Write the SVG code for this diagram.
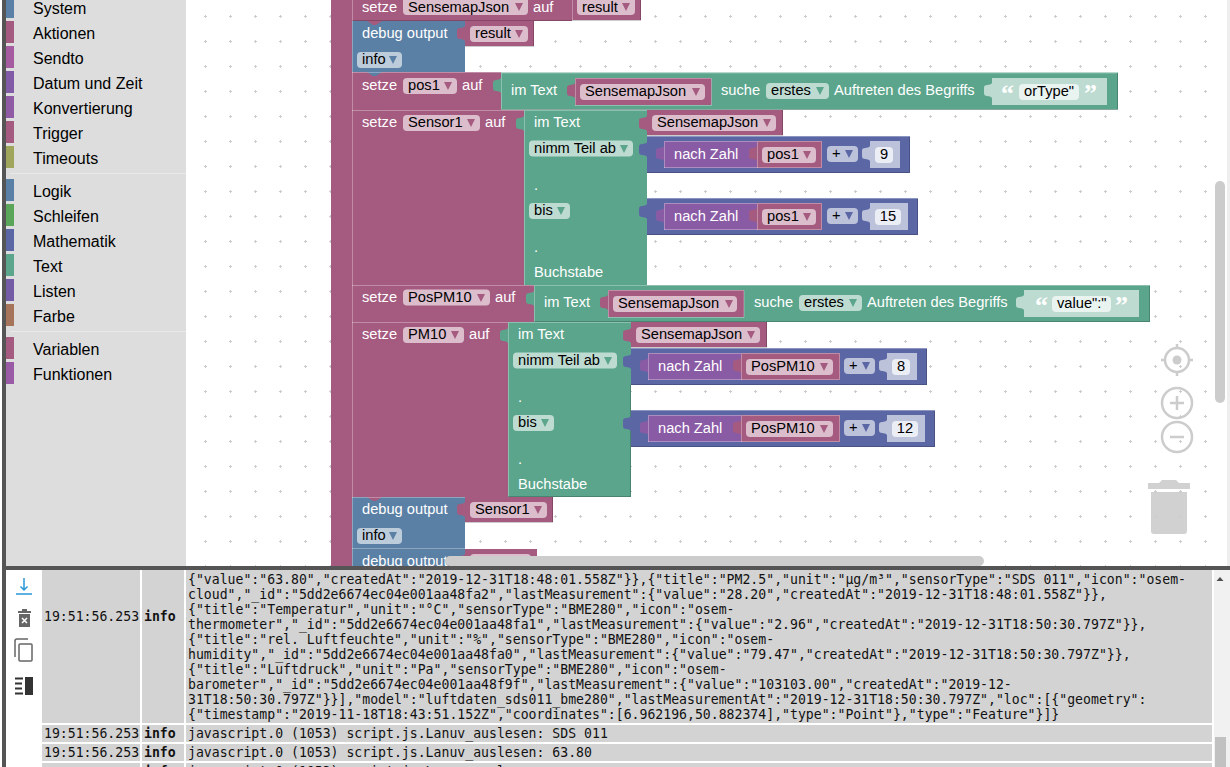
<svg xmlns="http://www.w3.org/2000/svg" width="1230" height="767" viewBox="0 0 1230 767">
<style>
text{font-family:"Liberation Sans",Arial,sans-serif;font-size:14.67px}
.w{fill:#fff}.k{fill:#000}
.tb{font-size:16px;fill:#000}
.log{font-family:"DejaVu Sans Mono",monospace;font-size:13.17px;fill:#111}
.lb{font-weight:bold}
.v{fill:#a55b80}.g{fill:#5ba58c}.d{fill:#5b80a5}.m{fill:#5b67a5}.p{fill:#8a5ba5}
.gs{fill:#bedbd1}.ms{fill:#bdc2db}
.vf{fill:#dbbdcc}.gf{fill:#bddbd1}.df{fill:#bdccdb}.mf{fill:#bdc2db}.sf{fill:#e9f3f0}.nf{fill:#eceef6}
.h{fill:none;stroke:#fff;stroke-opacity:.3}
.s{fill:none;stroke:#000;stroke-opacity:.2}
.c{fill:#ddd}.r{fill:#d3d3d3}.bar{fill:#ccc}
.ctl{fill:none;stroke:#ccc;stroke-width:2.5}
.q{font-family:"Liberation Serif",serif;font-size:26px;font-weight:bold}
</style>
<defs>
<pattern id="grid" patternUnits="userSpaceOnUse" width="25" height="25"><path d="M4,16.5h3M5.5,15v3" stroke="#ccc" fill="none"/></pattern>
<path id="t" d="M0,0C-2,3.500 -8,0 -8,5V10C-8,15 -2,11.500 0,15z"/>
<path id="n" d="M0,0l6,4h3l6,-4z"/>
<path id="a" d="M-4,-4h8l-4,8z"/>
<clipPath id="ws"><rect x="186" y="0" width="1044" height="566"/></clipPath>
<clipPath id="lg"><rect x="0" y="570" width="1230" height="197"/></clipPath>
</defs>
<rect width="1230" height="767" fill="#fff"/>

<g id="toolbox">
<rect class="c" x="6" y="0" width="180" height="566"/>
<rect x="2" y="0" width="4" height="767" fill="#555"/>
<rect x="10" y="173" width="176" height="1" fill="#e8e8e8"/><rect x="10" y="331" width="176" height="1" fill="#e8e8e8"/>
<rect x="6" y="-4" width="8" height="22" fill="#5b80a5"/><text class="tb" x="33" y="14">System</text>
<rect x="6" y="21" width="8" height="22" fill="#a55b80"/><text class="tb" x="33" y="39">Aktionen</text>
<rect x="6" y="46" width="8" height="22" fill="#a55ba0"/><text class="tb" x="33" y="64">Sendto</text>
<rect x="6" y="71" width="8" height="22" fill="#815ba5"/><text class="tb" x="33" y="89">Datum und Zeit</text>
<rect x="6" y="96" width="8" height="22" fill="#905ba5"/><text class="tb" x="33" y="114">Konvertierung</text>
<rect x="6" y="121" width="8" height="22" fill="#a55b80"/><text class="tb" x="33" y="139">Trigger</text>
<rect x="6" y="146" width="8" height="22" fill="#9fa55b"/><text class="tb" x="33" y="164">Timeouts</text>
<rect x="6" y="179" width="8" height="22" fill="#5b80a5"/><text class="tb" x="33" y="197">Logik</text>
<rect x="6" y="204" width="8" height="22" fill="#5ba55b"/><text class="tb" x="33" y="222">Schleifen</text>
<rect x="6" y="229" width="8" height="22" fill="#5b67a5"/><text class="tb" x="33" y="247">Mathematik</text>
<rect x="6" y="254" width="8" height="22" fill="#5ba58c"/><text class="tb" x="33" y="272">Text</text>
<rect x="6" y="279" width="8" height="22" fill="#745ba5"/><text class="tb" x="33" y="297">Listen</text>
<rect x="6" y="304" width="8" height="22" fill="#a5745b"/><text class="tb" x="33" y="322">Farbe</text>
<rect x="6" y="337" width="8" height="22" fill="#a55b80"/><text class="tb" x="33" y="355">Variablen</text>
<rect x="6" y="362" width="8" height="22" fill="#995ba6"/><text class="tb" x="33" y="380">Funktionen</text>
</g>

<g id="workspace">
<rect x="186" y="0" width="1041" height="566" fill="url(#grid)"/>
<rect x="1227" y="0" width="3" height="566" fill="#eee"/>
</g>

<g clip-path="url(#ws)">
<rect id="spine" class="v" x="331" y="-2" width="21" height="570"/>

<g id="set-sensemap">
<rect class="v" x="352" y="-5" width="220" height="26"/>
<rect class="vf" x="403" y="-4" width="125" height="19" rx="4"/>
<text class="w" x="362" y="12">setze</text><text class="k" x="408" y="12">SensemapJson</text><use href="#a" class="v" x="519" y="7"/>
<text class="w" x="533" y="12">auf</text>
<rect class="v" x="572" y="-5" width="69" height="25"/><use href="#t" class="v" x="572" y="0"/>
<rect class="vf" x="577" y="-4" width="58" height="19" rx="4"/><text class="k" x="582" y="12">result</text><use href="#a" class="v" x="626" y="7"/>
<path class="s" d="M352,20.500H640.500V0"/><path class="h" d="M572.500,0V20"/>
</g>

<g id="debug-result">
<rect class="d" x="352" y="21" width="113" height="51"/>
<use href="#n" class="v" x="367" y="21"/>
<text class="w" x="362" y="38">debug output</text>
<rect class="df" x="357" y="52" width="45" height="16" rx="4"/><text class="k" x="362" y="64">info</text><use href="#a" class="d" x="393" y="60"/>
<rect class="v" x="465" y="21" width="69" height="25"/><use href="#t" class="v" x="465" y="26"/>
<rect class="vf" x="470" y="26" width="58" height="16" rx="4"/><text class="k" x="475" y="38">result</text><use href="#a" class="v" x="519" y="34"/>
<path class="s" d="M465,46.500H533.500V21"/>
</g>

<g id="set-pos1">
<rect class="v" x="352" y="72" width="149" height="38"/>
<use href="#n" class="d" x="367" y="72"/>
<path class="h" d="M352,72.500H501"/>
<text class="w" x="362" y="90">setze</text>
<rect class="vf" x="403" y="78" width="54" height="16" rx="4"/><text class="k" x="408" y="90">pos1</text><use href="#a" class="v" x="448" y="86"/>
<text class="w" x="462" y="90">auf</text>
<rect class="g" x="501" y="72.500" width="617" height="37"/><use href="#t" class="g" x="501" y="78"/>
<path class="h" d="M501.500,109V73H1117"/><path class="s" d="M501,109.500H1117.500V73"/>
<text class="w" x="511" y="95">im Text</text>
<rect class="v" x="575" y="78" width="136.500" height="27"/><use href="#t" class="v" x="575" y="83"/>
<path class="h" d="M575.500,105.500V78.500H711.500V105.500H575"/>
<rect class="vf" x="580" y="84" width="125" height="16" rx="4"/><text class="k" x="585" y="96">SensemapJson</text><use href="#a" class="v" x="696" y="92"/>
<text class="w" x="721" y="95">suche</text>
<rect class="gf" x="766" y="83" width="63" height="16" rx="4"/><text class="k" x="771" y="95">erstes</text><use href="#a" class="g" x="820" y="91"/>
<text class="w" x="834" y="95">Auftreten des Begriffs</text>
<rect class="gs" x="992" y="78" width="115" height="27"/><use href="#t" class="gs" x="992" y="83"/>
<text class="q w" x="1001" y="102">“</text><text class="q w" x="1084" y="102">”</text>
<rect class="sf" x="1019" y="84" width="60" height="16" rx="4"/><text class="k" x="1024" y="96">orType"</text>
</g>

<g id="set-sensor1">
<rect class="v" x="352" y="110" width="172" height="175"/>
<use href="#n" class="v" x="367" y="110"/>
<path class="h" d="M352,110.500H524"/>
<text class="w" x="362" y="127">setze</text>
<rect class="vf" x="403" y="115" width="77" height="16" rx="4"/><text class="k" x="408" y="127">Sensor1</text><use href="#a" class="v" x="471" y="123"/>
<text class="w" x="485" y="127">auf</text>
<rect class="g" x="524" y="110" width="123" height="175"/><use href="#t" class="g" x="524" y="116"/>
<path class="h" d="M524.500,285V110.500H647"/>
<text class="w" x="534" y="127">im Text</text>
<rect class="gf" x="529" y="140.500" width="104" height="16" rx="4"/><text class="k" x="534" y="153">nimm Teil ab</text><use href="#a" class="g" x="624" y="149"/>
<text class="w" x="534" y="190">.</text>
<rect class="gf" x="529" y="203" width="41" height="16" rx="4"/><text class="k" x="534" y="215">bis</text><use href="#a" class="g" x="561" y="211"/>
<text class="w" x="534" y="252">.</text>
<text class="w" x="534" y="277">Buchstabe</text>
<rect class="v" x="647" y="110" width="136" height="25"/><use href="#t" class="v" x="647" y="116"/>
<rect class="vf" x="652" y="115" width="124" height="16" rx="4"/><text class="k" x="657" y="127">SensemapJson</text><use href="#a" class="v" x="767" y="123"/>
<path class="s" d="M647,135.500H782.500V110"/>
<rect class="m" x="647" y="136" width="263" height="37"/><use href="#t" class="m" x="647" y="142"/>
<path class="h" d="M647,136.500H910"/><path class="s" d="M647,172.500H909.500V137"/>
<rect class="p" x="664" y="141" width="93" height="27"/><use href="#t" class="p" x="664" y="146"/>
<path class="h" d="M664.500,168V141.500H757M664,167.500H757"/>
<text class="w" x="674" y="159">nach Zahl</text>
<rect class="v" x="757" y="141" width="65" height="27"/><use href="#t" class="v" x="757" y="146"/>
<path class="h" d="M757.500,168V141.500H821.500V167.500H757"/>
<rect class="vf" x="762" y="147" width="54" height="16" rx="4"/><text class="k" x="767" y="159">pos1</text><use href="#a" class="v" x="807" y="155"/>
<rect class="mf" x="827" y="146" width="31" height="16" rx="4"/><text class="k" x="832" y="158">+</text><use href="#a" class="m" x="849" y="154"/>
<rect class="ms" x="870" y="141" width="30" height="27"/><use href="#t" class="ms" x="870" y="146"/>
<rect class="nf" x="875" y="147" width="18" height="16" rx="4"/><text class="k" x="884" y="159" text-anchor="middle">9</text>
<rect class="m" x="647" y="198" width="271" height="37"/><use href="#t" class="m" x="647" y="204"/>
<path class="h" d="M647,198.500H918"/><path class="s" d="M647,234.500H917.500V199"/>
<rect class="p" x="664" y="203" width="93" height="27"/><use href="#t" class="p" x="664" y="208"/>
<path class="h" d="M664.500,230V203.500H757M664,229.500H757"/>
<text class="w" x="674" y="221">nach Zahl</text>
<rect class="v" x="757" y="203" width="65" height="27"/><use href="#t" class="v" x="757" y="208"/>
<path class="h" d="M757.500,230V203.500H821.500V229.500H757"/>
<rect class="vf" x="762" y="209" width="54" height="16" rx="4"/><text class="k" x="767" y="221">pos1</text><use href="#a" class="v" x="807" y="217"/>
<rect class="mf" x="827" y="208" width="31" height="16" rx="4"/><text class="k" x="832" y="220">+</text><use href="#a" class="m" x="849" y="216"/>
<rect class="ms" x="870" y="203" width="38" height="27"/><use href="#t" class="ms" x="870" y="208"/>
<rect class="nf" x="875" y="209" width="26" height="16" rx="4"/><text class="k" x="888" y="221" text-anchor="middle">15</text>
</g>

<g id="set-pospm10">
<rect class="v" x="352" y="285" width="182" height="37"/>
<use href="#n" class="v" x="367" y="285"/>
<path class="h" d="M352,285.500H534"/>
<text class="w" x="362" y="302">setze</text>
<rect class="vf" x="403" y="289.500" width="87" height="16" rx="4"/><text class="k" x="408" y="302">PosPM10</text><use href="#a" class="v" x="481" y="298"/>
<text class="w" x="495" y="302">auf</text>
<rect class="g" x="534" y="285" width="616" height="37"/><use href="#t" class="g" x="534" y="291"/>
<path class="h" d="M534.500,322V285.500H1150"/><path class="s" d="M534,321.500H1149.500V286"/>
<text class="w" x="544" y="307">im Text</text>
<rect class="v" x="608" y="290" width="136" height="27"/><use href="#t" class="v" x="608" y="295"/>
<path class="h" d="M608.500,317.500V290.500H744V317.500H608"/>
<rect class="vf" x="613" y="296" width="124" height="16" rx="4"/><text class="k" x="618" y="308">SensemapJson</text><use href="#a" class="v" x="729" y="304"/>
<text class="w" x="754" y="307">suche</text>
<rect class="gf" x="799" y="295" width="63" height="16" rx="4"/><text class="k" x="804" y="307">erstes</text><use href="#a" class="g" x="853" y="303"/>
<text class="w" x="867" y="307">Auftreten des Begriffs</text>
<rect class="gs" x="1024" y="290" width="115" height="27"/><use href="#t" class="gs" x="1024" y="295"/>
<text class="q w" x="1035" y="314">“</text><text class="q w" x="1115" y="314">”</text>
<rect class="sf" x="1052" y="296" width="59" height="16" rx="4"/><text class="k" x="1057" y="308">value":"</text>
</g>

<g id="set-pm10">
<rect class="v" x="352" y="322" width="156" height="175"/>
<use href="#n" class="v" x="367" y="322"/>
<path class="h" d="M352,322.500H508"/>
<text class="w" x="362" y="339">setze</text>
<rect class="vf" x="403" y="327" width="61" height="16" rx="4"/><text class="k" x="408" y="339">PM10</text><use href="#a" class="v" x="455" y="335"/>
<text class="w" x="469" y="339">auf</text>
<rect class="g" x="508" y="322" width="123" height="175"/><use href="#t" class="g" x="508" y="328"/>
<path class="h" d="M508.500,497V322.500H631"/><path class="s" d="M508,496.500H630.500V385"/>
<text class="w" x="518" y="339">im Text</text>
<rect class="gf" x="513" y="352.500" width="104" height="16" rx="4"/><text class="k" x="518" y="365">nimm Teil ab</text><use href="#a" class="g" x="608" y="361"/>
<text class="w" x="518" y="402">.</text>
<rect class="gf" x="513" y="415" width="41" height="16" rx="4"/><text class="k" x="518" y="427">bis</text><use href="#a" class="g" x="545" y="423"/>
<text class="w" x="518" y="464">.</text>
<text class="w" x="518" y="489">Buchstabe</text>
<rect class="v" x="631" y="322" width="136" height="25"/><use href="#t" class="v" x="631" y="328"/>
<rect class="vf" x="636" y="327" width="124" height="16" rx="4"/><text class="k" x="641" y="339">SensemapJson</text><use href="#a" class="v" x="751" y="335"/>
<path class="s" d="M631,347.500H766.500V322"/>
<rect class="m" x="631" y="348" width="296" height="37"/><use href="#t" class="m" x="631" y="354"/>
<path class="h" d="M631,348.500H927"/><path class="s" d="M631,384.500H926.500V349"/>
<rect class="p" x="648" y="353" width="93" height="27"/><use href="#t" class="p" x="648" y="358"/>
<path class="h" d="M648.500,380V353.500H741M648,379.500H741"/>
<text class="w" x="658" y="371">nach Zahl</text>
<rect class="v" x="741" y="353" width="99" height="27"/><use href="#t" class="v" x="741" y="358"/>
<path class="h" d="M741.500,380V353.500H839.500V379.500H741"/>
<rect class="vf" x="746" y="359" width="87" height="16" rx="4"/><text class="k" x="751" y="371">PosPM10</text><use href="#a" class="v" x="824" y="367"/>
<rect class="mf" x="844" y="358" width="31" height="16" rx="4"/><text class="k" x="849" y="370">+</text><use href="#a" class="m" x="866" y="366"/>
<rect class="ms" x="887" y="353" width="30" height="27"/><use href="#t" class="ms" x="887" y="358"/>
<rect class="nf" x="892" y="359" width="18" height="16" rx="4"/><text class="k" x="901" y="371" text-anchor="middle">8</text>
<rect class="m" x="631" y="410" width="304" height="37"/><use href="#t" class="m" x="631" y="416"/>
<path class="h" d="M631,410.500H935"/><path class="s" d="M631,446.500H934.500V411"/>
<rect class="p" x="648" y="415" width="93" height="27"/><use href="#t" class="p" x="648" y="420"/>
<path class="h" d="M648.500,442V415.500H741M648,441.500H741"/>
<text class="w" x="658" y="433">nach Zahl</text>
<rect class="v" x="741" y="415" width="99" height="27"/><use href="#t" class="v" x="741" y="420"/>
<path class="h" d="M741.500,442V415.500H839.500V441.500H741"/>
<rect class="vf" x="746" y="421" width="87" height="16" rx="4"/><text class="k" x="751" y="433">PosPM10</text><use href="#a" class="v" x="824" y="429"/>
<rect class="mf" x="844" y="420" width="31" height="16" rx="4"/><text class="k" x="849" y="432">+</text><use href="#a" class="m" x="866" y="428"/>
<rect class="ms" x="887" y="415" width="38" height="27"/><use href="#t" class="ms" x="887" y="420"/>
<rect class="nf" x="892" y="421" width="26" height="16" rx="4"/><text class="k" x="905" y="433" text-anchor="middle">12</text>
</g>

<g id="debug-sensor1">
<rect class="d" x="352" y="497" width="113" height="51"/>
<use href="#n" class="v" x="367" y="497"/>
<path class="h" d="M352,497.500H465"/>
<text class="w" x="362" y="514">debug output</text>
<rect class="df" x="357" y="528" width="45" height="16" rx="4"/><text class="k" x="362" y="540">info</text><use href="#a" class="d" x="393" y="536"/>
<rect class="v" x="465" y="497" width="88" height="25"/><use href="#t" class="v" x="465" y="502"/>
<rect class="vf" x="470" y="502" width="77" height="16" rx="4"/><text class="k" x="475" y="514">Sensor1</text><use href="#a" class="v" x="538" y="510"/>
<path class="s" d="M465,522.500H552.500V497"/>
</g>

<g id="debug-pm10">
<rect class="d" x="352" y="548" width="113" height="22"/>
<use href="#n" class="d" x="367" y="548"/>
<path class="h" d="M352,548.500H465"/>
<text class="w" x="362" y="566">debug output</text>
<rect class="v" x="465" y="549" width="72" height="22"/><use href="#t" class="v" x="465" y="554"/>
<rect class="vf" x="470" y="554" width="61" height="16" rx="4"/><text class="k" x="475" y="566">PM10</text><use href="#a" class="v" x="522" y="562"/>
</g>
<path class="h" d="M352.500,0V566"/>
</g>

<g id="controls">
<rect class="bar" x="445" y="556" width="539" height="10" rx="5"/>
<rect class="bar" x="1215" y="181" width="10" height="222" rx="5"/>
<circle class="ctl" cx="1177" cy="360" r="12"/><circle cx="1177" cy="360" r="4.500" fill="#ccc"/>
<path class="ctl" stroke-width="2" d="M1177,344v4M1177,372v4M1161,360h4M1189,360h4"/>
<circle class="ctl" cx="1177" cy="403" r="15"/><path class="ctl" d="M1177,396v14M1170,403h14"/>
<circle class="ctl" cx="1177" cy="437" r="15"/><path class="ctl" d="M1170,437h14"/>
<g fill="#ccc" fill-opacity=".9"><path d="M1159,483l3,-3h14l3,3h11v6h-42v-6z"/><path d="M1151,492h36v39a3,3 0 0 1 -3,3h-30a3,3 0 0 1 -3,-3z"/></g>
</g>

<rect id="divider" x="6" y="566" width="1224" height="4" fill="#555"/>

<g id="log" clip-path="url(#lg)">
<rect x="1214" y="570" width="16" height="197" fill="#f1f1f1"/>
<path d="M1216.500,581l3.500,-4 3.500,4z" fill="#505050"/>
<rect x="1215" y="737" width="11" height="30" fill="#c1c1c1"/>
<rect class="r" x="42" y="570" width="98" height="153"/><rect class="r" x="142" y="570" width="42" height="153"/><rect class="r" x="186" y="570" width="1026" height="153"/>
<rect class="r" x="42" y="725" width="98" height="17"/><rect class="r" x="142" y="725" width="42" height="17"/><rect class="r" x="186" y="725" width="1026" height="17"/>
<rect class="r" x="42" y="744" width="98" height="17"/><rect class="r" x="142" y="744" width="42" height="17"/><rect class="r" x="186" y="744" width="1026" height="17"/>
<rect class="r" x="42" y="763" width="98" height="4"/><rect class="r" x="142" y="763" width="42" height="4"/><rect class="r" x="186" y="763" width="1026" height="4"/>
<text class="log" x="44" y="621">19:51:56.253</text><text class="log lb" x="144" y="621">info</text>
<text class="log" x="188" y="583.500">{"value":"63.80","createdAt":"2019-12-31T18:48:01.558Z"}},{"title":"PM2.5","unit":"µg/m³","sensorType":"SDS 011","icon":"osem-</text>
<text class="log" x="188" y="598.500">cloud","_id":"5dd2e6674ec04e001aa48fa2","lastMeasurement":{"value":"28.20","createdAt":"2019-12-31T18:48:01.558Z"}},</text>
<text class="log" x="188" y="613.500">{"title":"Temperatur","unit":"°C","sensorType":"BME280","icon":"osem-</text>
<text class="log" x="188" y="628.500">thermometer","_id":"5dd2e6674ec04e001aa48fa1","lastMeasurement":{"value":"2.96","createdAt":"2019-12-31T18:50:30.797Z"}},</text>
<text class="log" x="188" y="643.500">{"title":"rel. Luftfeuchte","unit":"%","sensorType":"BME280","icon":"osem-</text>
<text class="log" x="188" y="658.500">humidity","_id":"5dd2e6674ec04e001aa48fa0","lastMeasurement":{"value":"79.47","createdAt":"2019-12-31T18:50:30.797Z"}},</text>
<text class="log" x="188" y="673.500">{"title":"Luftdruck","unit":"Pa","sensorType":"BME280","icon":"osem-</text>
<text class="log" x="188" y="688.500">barometer","_id":"5dd2e6674ec04e001aa48f9f","lastMeasurement":{"value":"103103.00","createdAt":"2019-12-</text>
<text class="log" x="188" y="703.500">31T18:50:30.797Z"}}],"model":"luftdaten_sds011_bme280","lastMeasurementAt":"2019-12-31T18:50:30.797Z","loc":[{"geometry":</text>
<text class="log" x="188" y="718.500">{"timestamp":"2019-11-18T18:43:51.152Z","coordinates":[6.962196,50.882374],"type":"Point"},"type":"Feature"}]}</text>
<text class="log" x="44" y="738">19:51:56.253</text><text class="log lb" x="144" y="738">info</text><text class="log" x="188" y="738">javascript.0 (1053) script.js.Lanuv_auslesen: SDS 011</text>
<text class="log" x="44" y="757">19:51:56.253</text><text class="log lb" x="144" y="757">info</text><text class="log" x="188" y="757">javascript.0 (1053) script.js.Lanuv_auslesen: 63.80</text>
<text class="log lb" x="144" y="776">info</text><text class="log" x="188" y="776">javascript.0 (1053) script.js.Lanuv_auslesen:</text>
</g>

<g id="log-tools">
<path d="M16,594h16" stroke="#2a96d6" stroke-width="1.500" fill="none"/>
<path d="M24,578v12M20.500,586.500l3.500,3.500 3.500,-3.500" stroke="#2a96d6" stroke-width="1.500" fill="none"/>
<path d="M18,611h13v2h-13zM22,609h5v2h-5zM19,614h11v13h-11z" fill="#666"/>
<path d="M22,618l5,5M27,618l-5,5" stroke="#fff" stroke-width="1.500"/>
<path d="M15,657v-16a2,2 0 0 1 2,-2h11" fill="none" stroke="#666" stroke-width="1.500"/>
<rect x="19" y="644" width="13" height="17" rx="1" fill="none" stroke="#666" stroke-width="1.500"/>
<path d="M15,678.500h8M15,683.500h7M15,688.500h7M15,693.500h8" stroke="#333" stroke-width="2"/>
<rect x="25" y="677" width="8" height="18" fill="#333"/>
</g>
</svg>
